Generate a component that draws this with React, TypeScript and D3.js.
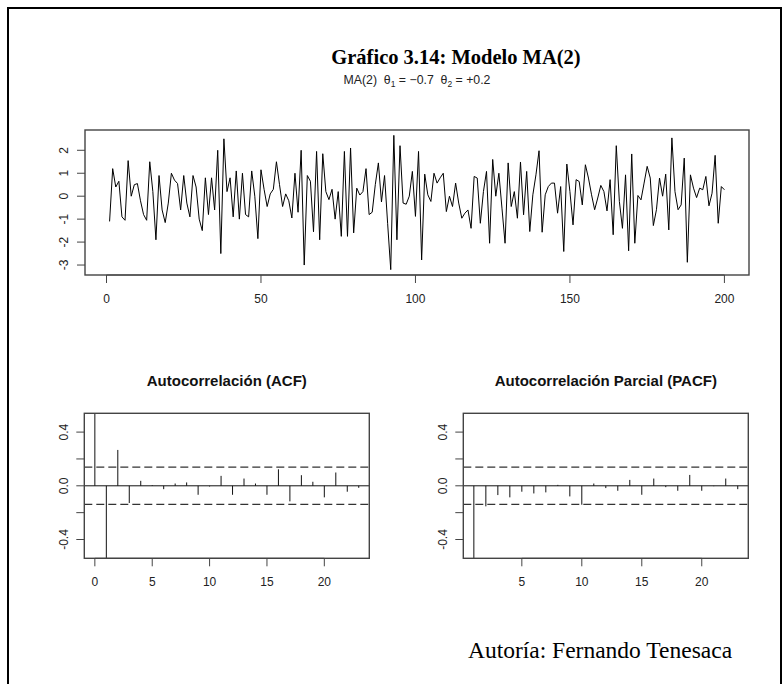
import React from "react";
import * as d3 from "d3";

const tsValues: number[] = [
  -1.1, 1.2, 0.4, 0.65, -0.9, -1.05, 1.55, 0.0, 0.5, 0.55,
  -0.2, -0.8, -1.05, 1.5, 0.2, -1.9, 0.9, -0.6, -1.15, -0.3,
  1.0, 0.7, 0.55, -0.6, 0.9, -0.3, -0.9, 0.9, 0.4, -1.0,
  -1.5, 0.8, -0.8, 0.8, -0.6, 2.0, -2.5, 2.5, 0.2, 0.8,
  -0.9, 1.1, -1.0, 1.0, -0.8, -0.9, 1.1, 0.0, -1.85, 1.15,
  0.3, -0.45, 0.1, 0.3, 1.5, 0.5, -0.45, 0.1, -0.2, -0.95,
  1.0, -0.7, 2.0, -3.0, 0.9, 0.65, -1.55, 1.95, -1.9, 1.85,
  0.2, -0.15, 0.3, -1.0, 0.2, -1.75, 1.95, -1.75, 2.1, -1.6,
  0.35, 0.05, 0.2, 1.2, -0.8, -0.7, 0.5, 1.45, -0.25, 0.9,
  -1.2, -3.2, 2.65, -1.9, 2.2, -0.3, -0.35, 0.0, 1.08, -0.88,
  1.95, -2.78, 0.96, 0.06, -0.23, 1.0, 0.57, 0.8, 1.0, -0.67,
  0.0, -0.45, 0.57, -0.3, -0.96, -0.74, -0.6, -1.4, 0.86, 0.79,
  -1.18, 0.2, 1.08, -2.05, 1.6, 0.0, 1.0, -0.52, -2.05, 1.45,
  -0.45, 0.2, -0.96, 1.49, -0.81, 1.08, -1.54, 0.06, 0.93, 1.98,
  -1.57, 0.06, 0.42, 0.57, 0.57, -0.74, 0.42, -2.41, 1.4, 0.2,
  -1.25, 0.72, 0.64, -0.38, 1.37, 0.79, 0.06, -0.59, -0.08, 0.47,
  0.2, -0.64, 0.72, -1.68, 2.2, -0.23, -1.4, 0.93, -2.38, 1.84,
  -2.05, 0.03, -0.16, 0.57, 1.3, 0.79, -1.28, -0.59, 0.79, 0.0,
  0.96, -1.47, 2.54, 0.2, -0.59, -0.38, 1.66, -2.88, 0.93, 0.35,
  -0.06, 0.35, 0.28, 0.86, -0.42, 0.13, 1.78, -1.18, 0.42, 0.28,
];

const acfValues: number[] = [
  1.0, -0.55, 0.267, -0.128, 0.037, 0.005, -0.025, 0.017, 0.025, -0.067,
  -0.005, 0.074, -0.067, 0.054, 0.017, -0.067, 0.123, -0.116, 0.079, 0.03,
  -0.086, 0.099, -0.044, -0.015,
];

const pacfValues: number[] = [
  -0.56, -0.153, -0.069, -0.086, -0.044, -0.057, -0.049, 0.007, -0.079, -0.141,
  0.017, -0.017, -0.037, 0.044, -0.067, 0.054, -0.01, -0.037, 0.081, -0.037,
  -0.003, 0.054, -0.025,
];

const tsXTicks = [0, 50, 100, 150, 200];
const tsYTicks = [-3, -2, -1, 0, 1, 2];
const acfXTicks = [0, 5, 10, 15, 20];
const pacfXTicks = [5, 10, 15, 20];
const corrYTicks = [-0.4, -0.2, 0.0, 0.2, 0.4];
const corrYLabels = [-0.4, 0.0, 0.4];

const mainTitle = "Gráfico 3.14: Modelo MA(2)";
const acfTitle = "Autocorrelación (ACF)";
const pacfTitle = "Autocorrelación Parcial (PACF)";
const author = "Autoría: Fernando Tenesaca";

const SANS = "'Liberation Sans', Arial, sans-serif";
const SERIF = "'Liberation Serif', 'Times New Roman', serif";
const BOX = "#444";
const LABEL = 12;

function pad(lo: number, hi: number): [number, number] {
  const r = hi - lo;
  return [lo - 0.04 * r, hi + 0.04 * r];
}

function fmt(v: number) {
  if (Math.abs(v) < 1e-9) return "0.0";
  return v.toFixed(1);
}

function CorrPanel(props: {
  values: number[];
  startLag: number;
  box: [number, number, number, number];
  xTicks: number[];
  title: string;
  id: string;
  n: number;
}) {
  const { values, startLag, box, xTicks, title, id, n } = props;
  const [x0, y0, x1, y1] = box;
  const lags = values.map((_, i) => i + startLag);
  const x = d3.scaleLinear().domain(pad(startLag, lags[lags.length - 1])).range([x0, x1]);
  const y = d3.scaleLinear().domain(pad(-0.5, 0.5)).range([y1, y0]);
  const ci = 1.96 / Math.sqrt(n);
  return (
    <g>
      <defs>
        <clipPath id={id}>
          <rect x={x0} y={y0} width={x1 - x0} height={y1 - y0} />
        </clipPath>
      </defs>
      <text x={(x0 + x1) / 2} y={y0 - 27} textAnchor="middle" fontFamily={SANS} fontWeight="bold" fontSize={15} fill="#111">
        {title}
      </text>
      <g clipPath={`url(#${id})`}>
        {values.map((v, i) => (
          <line key={i} x1={x(lags[i])} x2={x(lags[i])} y1={y(0)} y2={y(v)} stroke="#111" strokeWidth={1} />
        ))}
        <line x1={x0} x2={x1} y1={y(0)} y2={y(0)} stroke="#111" strokeWidth={1} />
        <line x1={x0} x2={x1} y1={y(ci)} y2={y(ci)} stroke="#333" strokeWidth={1.3} strokeDasharray="8,4" />
        <line x1={x0} x2={x1} y1={y(-ci)} y2={y(-ci)} stroke="#333" strokeWidth={1.3} strokeDasharray="8,4" />
      </g>
      <rect x={x0} y={y0} width={x1 - x0} height={y1 - y0} fill="none" stroke={BOX} strokeWidth={1.4} />
      <line x1={x(xTicks[0])} x2={x(xTicks[xTicks.length - 1])} y1={y1} y2={y1} stroke={BOX} strokeWidth={1} />
      {xTicks.map((t) => (
        <g key={t}>
          <line x1={x(t)} x2={x(t)} y1={y1} y2={y1 + 8} stroke={BOX} />
          <text x={x(t)} y={y1 + 28} textAnchor="middle" fontFamily={SANS} fontSize={LABEL} fill="#222">
            {t}
          </text>
        </g>
      ))}
      {corrYTicks.map((t) => (
        <line key={t} x1={x0 - 8} x2={x0} y1={y(t)} y2={y(t)} stroke={BOX} />
      ))}
      {corrYLabels.map((t) => (
        <text
          key={t}
          transform={`translate(${x0 - 16.5},${y(t)}) rotate(-90)`}
          textAnchor="middle"
          fontFamily={SANS}
          fontSize={LABEL}
          fill="#222"
        >
          {fmt(t)}
        </text>
      ))}
    </g>
  );
}

export default function App() {
  const W = 783;
  const H = 684;
  const ts = tsValues.map((v, i) => ({ t: i + 1, v }));
  const [ymin, ymax] = d3.extent(tsValues) as [number, number];
  const xTs = d3.scaleLinear().domain(pad(1, tsValues.length)).range([85, 749]);
  const yTs = d3.scaleLinear().domain(pad(ymin, ymax)).range([275, 130]);
  const line = d3
    .line<{ t: number; v: number }>()
    .x((d) => xTs(d.t))
    .y((d) => yTs(d.v));

  return (
    <svg width={W} height={H} style={{ position: "absolute", left: 0, top: 0, background: "#fff" }}>
      <rect x={0} y={0} width={W} height={H} fill="#fff" />
      <rect x={8} y={8} width={773} height={720} fill="none" stroke="#000" strokeWidth={2} />

      <text x={456} y={64} textAnchor="middle" fontFamily={SERIF} fontWeight="bold" fontSize={20.5} fill="#000">
        {mainTitle}
      </text>
      <text x={417} y={84} textAnchor="middle" fontFamily={SANS} fontSize={12.3} fill="#222" style={{ whiteSpace: "pre" }}>
        <tspan>{"MA(2)  θ"}</tspan>
        <tspan fontSize={8.5} dy={3}>1</tspan>
        <tspan dy={-3}>{" = −0.7  θ"}</tspan>
        <tspan fontSize={8.5} dy={3}>2</tspan>
        <tspan dy={-3}>{" = +0.2"}</tspan>
      </text>

      <path d={line(ts) || ""} fill="none" stroke="#000" strokeWidth={1} />
      <rect x={85} y={130} width={664} height={145} fill="none" stroke={BOX} strokeWidth={1.4} />
      <line x1={xTs(0)} x2={xTs(200)} y1={275} y2={275} stroke={BOX} />
      {tsXTicks.map((t) => (
        <g key={t}>
          <line x1={xTs(t)} x2={xTs(t)} y1={275} y2={283} stroke={BOX} />
          <text x={xTs(t)} y={303} textAnchor="middle" fontFamily={SANS} fontSize={LABEL} fill="#222">
            {t}
          </text>
        </g>
      ))}
      {tsYTicks.map((t) => (
        <g key={t}>
          <line x1={77} x2={85} y1={yTs(t)} y2={yTs(t)} stroke={BOX} />
          <text
            transform={`translate(${67.5},${yTs(t)}) rotate(-90)`}
            textAnchor="middle"
            fontFamily={SANS}
            fontSize={LABEL}
            fill="#222"
          >
            {t}
          </text>
        </g>
      ))}

      <CorrPanel values={acfValues} startLag={0} box={[84.3, 413.3, 369.3, 558.3]} xTicks={acfXTicks} title={acfTitle} id="clipAcf" n={200} />
      <CorrPanel values={pacfValues} startLag={1} box={[463.3, 413.3, 748.3, 558.3]} xTicks={pacfXTicks} title={pacfTitle} id="clipPacf" n={200} />

      <text x={600} y={658} textAnchor="middle" fontFamily={SERIF} fontSize={23.5} fill="#000">
        {author}
      </text>
    </svg>
  );
}
